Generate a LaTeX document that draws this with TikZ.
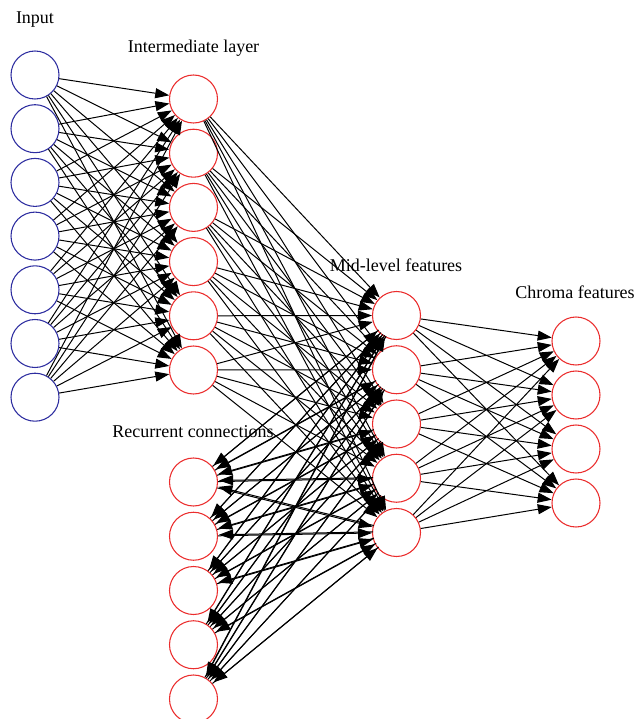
\documentclass[tikz,border=0pt]{standalone}
\usepackage{fontspec}
\setmainfont{Liberation Serif}
\usetikzlibrary{arrows.meta}
\definecolor{unitred}{RGB}{235,45,45}
\definecolor{unitblue}{RGB}{45,45,160}
\tikzset{
  unit/.style   ={circle, draw=unitred, fill=white, line width=0.8pt,
                  minimum size=36pt, inner sep=0pt},
  inunit/.style ={unit, draw=unitblue},
  arr/.style    ={-{Triangle[length=10.5pt, width=7.5pt]}, line width=0.75pt},
  lbl/.style    ={font=\fontsize{13.5}{15}\selectfont, inner sep=0pt},
}
\begin{document}
\begin{tikzpicture}[x=0.75pt, y=-0.75pt]
  \useasboundingbox (0,0) rectangle (638,719);

  % layers
  \foreach \i in {1,...,7} \node[inunit] (in\i)  at (35,    {75+53.7*(\i-1)})    {};
  \foreach \i in {1,...,6} \node[unit]   (hid\i) at (193.5, {99+54.2*(\i-1)})    {};
  \foreach \i in {1,...,5} \node[unit]   (mid\i) at (396.5, {315.5+54.25*(\i-1)}) {};
  \foreach \i in {1,...,4} \node[unit]   (out\i) at (576,   {341+54*(\i-1)})     {};
  \foreach \i in {1,...,5} \node[unit]   (rec\i) at (193.5, {482+54.25*(\i-1)})   {};

  % labels
  \node[lbl] (inlbl)  at (35,20)    {Input};
  \node[lbl] (hidlbl) at (193.5,48) {Intermediate layer};
  \node[lbl] (midlbl) at (396,265)  {Mid-level features};
  \node[lbl] (outlbl) at (575,292)  {Chroma features};
  \node[lbl] (reclbl) at (193,432)  {Recurrent connections};

  % connections
  \foreach \i in {1,...,7} \foreach \j in {1,...,6} \draw[arr] (in\i) -- (hid\j);
  \foreach \i in {1,...,6} \foreach \j in {1,...,5} \draw[arr] (hid\i) -- (mid\j);
  \foreach \i in {1,...,5} \foreach \j in {1,...,4} \draw[arr] (mid\i) -- (out\j);
  \foreach \i in {1,...,5} \foreach \j in {1,...,5} {
    \draw[arr] (rec\i) -- (mid\j);
    \draw[arr, transform canvas={shift={(0.8pt,0.8pt)}}] (mid\j) -- (rec\i);
  }
\end{tikzpicture}
\end{document}
